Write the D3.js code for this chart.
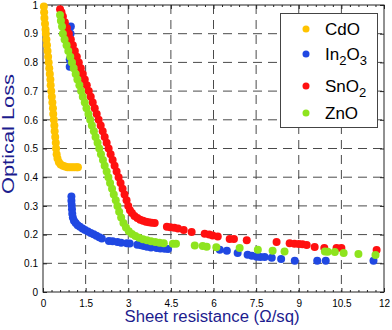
<!DOCTYPE html>
<html>
<head>
<meta charset="utf-8">
<script src="https://cdn.jsdelivr.net/npm/d3@7"></script>
<style>
  html, body { margin: 0; padding: 0; background: #fff; overflow: hidden; }
  text { font-family: 'Liberation Sans', Arial, Helvetica, sans-serif; }
</style>
</head>
<body>
<div id="chart"></div>
<script>
// tick values and labels
const xTicks = [0, 1.5, 3, 4.5, 6, 7.5, 9, 10.5, 12];
const xTickLabels = ['0', '1.5', '3', '4.5', '6', '7.5', '9', '10.5', '12'];
const yTicks = [0, 0.1, 0.2, 0.3, 0.4, 0.5, 0.6, 0.7, 0.8, 0.9, 1];
const yTickLabels = ['0', '0.1', '0.2', '0.3', '0.4', '0.5', '0.6', '0.7', '0.8', '0.9', '1'];
const xMinorTicks = [0.3, 0.6, 0.9, 1.2, 1.8, 2.1, 2.4, 2.7, 3.3, 3.6, 3.9, 4.2, 4.8, 5.1, 5.4, 5.7,
  6.3, 6.6, 6.9, 7.2, 7.8, 8.1, 8.4, 8.7, 9.3, 9.6, 9.9, 10.2, 10.8, 11.1, 11.4, 11.7];

// [sheet resistance, optical loss]
const cdo = [[0.03,0.995],[0.04,0.975],[0.05,0.955],[0.07,0.935],[0.09,0.915],[0.1,0.9],[0.12,0.88],
  [0.14,0.86],[0.16,0.84],[0.18,0.82],[0.2,0.8],[0.22,0.78],[0.24,0.76],[0.26,0.74],[0.27,0.72],
  [0.29,0.7],[0.31,0.68],[0.33,0.66],[0.35,0.64],[0.36,0.62],[0.38,0.6],[0.4,0.58],[0.41,0.56],
  [0.43,0.54],[0.45,0.52],[0.46,0.5],[0.48,0.48],[0.51,0.465],[0.56,0.452],[0.62,0.444],[0.7,0.44],
  [0.78,0.437],[0.86,0.435],[0.94,0.435],[1.02,0.435],[1.1,0.435],[1.18,0.435],[1.23,0.435]];

const in2o3 = [[0.98,0.925],[0.97,0.9],[0.96,0.87],[0.95,0.84],[0.94,0.81],[0.94,0.785],
  [1.0,0.333],[1.0,0.318],[1.01,0.303],[1.02,0.288],[1.03,0.273],[1.05,0.26],[1.09,0.248],
  [1.15,0.24],[1.22,0.233],[1.3,0.227],[1.39,0.221],[1.48,0.216],[1.58,0.211],[1.68,0.206],
  [1.78,0.201],[1.88,0.196],[1.98,0.191],[2.07,0.186],[2.32,0.178],[2.45,0.177],[2.62,0.174],
  [2.75,0.172],[2.95,0.17],[3.05,0.169],[3.32,0.165],[3.45,0.163],[3.55,0.16],[3.66,0.158],
  [3.8,0.155],[4.0,0.153],[4.13,0.152],[4.28,0.151],[4.4,0.15],
  [6.22,0.147],[6.47,0.144],[6.85,0.136],[7.2,0.13],[7.35,0.126],[7.52,0.123],[7.65,0.122],
  [7.8,0.122],[8.05,0.119],[8.38,0.115],[8.86,0.109],[9.65,0.109],[9.95,0.109],[11.63,0.109]];

const sno2 = [[0.6,0.985],[0.65,0.975],[0.7,0.96],[0.77,0.94],[0.84,0.92],[0.91,0.9],[0.98,0.88],
  [1.05,0.86],[1.12,0.84],[1.19,0.82],[1.26,0.8],[1.33,0.78],[1.4,0.76],[1.47,0.74],[1.54,0.72],
  [1.61,0.7],[1.68,0.68],[1.75,0.66],[1.82,0.64],[1.89,0.62],[1.96,0.6],[2.03,0.58],[2.1,0.56],
  [2.17,0.54],[2.24,0.52],[2.31,0.5],[2.38,0.48],[2.45,0.46],[2.52,0.44],[2.59,0.42],[2.66,0.4],
  [2.73,0.38],[2.8,0.36],[2.87,0.34],[2.94,0.32],[3.0,0.3],[3.06,0.285],[3.13,0.275],[3.22,0.265],
  [3.32,0.258],[3.42,0.252],[3.52,0.248],[3.62,0.245],[3.72,0.243],[3.82,0.241],[3.93,0.24],
  [4.36,0.227],[4.48,0.226],[4.62,0.224],[4.75,0.221],[4.95,0.216],[5.23,0.209],[5.69,0.203],
  [5.85,0.2],[5.97,0.197],[6.15,0.193],[6.57,0.185],[6.72,0.185],[7.17,0.18],[8.22,0.174],
  [8.68,0.17],[8.85,0.168],[9.0,0.167],[9.13,0.166],[9.28,0.164],[9.56,0.157],[9.9,0.153],
  [10.33,0.153],[10.5,0.153],[11.74,0.146]];

const zno = [[0.6,0.965],[0.63,0.945],[0.67,0.925],[0.7,0.9],[0.76,0.88],[0.83,0.86],[0.89,0.84],
  [0.96,0.82],[1.02,0.8],[1.08,0.78],[1.15,0.76],[1.21,0.74],[1.28,0.72],[1.34,0.7],[1.4,0.68],
  [1.47,0.66],[1.53,0.64],[1.6,0.62],[1.66,0.6],[1.72,0.58],[1.79,0.56],[1.85,0.54],[1.92,0.52],
  [1.98,0.5],[2.04,0.48],[2.11,0.46],[2.17,0.44],[2.24,0.42],[2.3,0.4],[2.36,0.38],[2.43,0.36],
  [2.49,0.34],[2.56,0.32],[2.62,0.3],[2.68,0.28],[2.75,0.26],[2.83,0.24],[2.92,0.225],[3.02,0.212],
  [3.13,0.202],[3.25,0.195],[3.38,0.189],[3.52,0.184],[3.66,0.18],[3.8,0.177],[3.95,0.174],
  [4.1,0.172],[4.25,0.17],
  [4.57,0.168],[4.68,0.168],[5.34,0.162],[5.62,0.16],[5.76,0.158],[6.1,0.156],[6.92,0.153],
  [7.56,0.147],[8.08,0.144],[8.5,0.141],[9.92,0.141],[10.02,0.14],[10.27,0.139],[10.58,0.136],
  [11.1,0.132],[11.7,0.129]];

const colCdO = '#FFC300';
const colIn = '#2048E2';
const colSn = '#FF1010';
const colZn = '#8EE41E';
const labelColor = '#1C1C8E';
const gridColor = '#4a4a4a';
const dotR = 4;

const width = 392;
const height = 330;
const margin = {top: 5, right: 8, bottom: 38, left: 43};
const innerWidth = width - margin.left - margin.right;
const innerHeight = height - margin.top - margin.bottom;

const xScale = d3.scaleLinear().domain([0, 12]).range([0, innerWidth]);
const yScale = d3.scaleLinear().domain([0, 1]).range([innerHeight, 0]);

// viewBox keeps the whole chart inside the window even if the viewport differs
const svg = d3.select('#chart').append('svg')
    .attr('viewBox', `0 0 ${width} ${height}`)
    .style('width', '100vw')
    .style('height', '100vh')
    .style('display', 'block');

const g = svg.append('g')
    .attr('transform', `translate(${margin.left},${margin.top})`);

// dashed grid
g.append('g').selectAll('line')
  .data(xTicks.slice(1, -1))
  .join('line')
    .attr('x1', d => xScale(d)).attr('x2', d => xScale(d))
    .attr('y1', 0).attr('y2', innerHeight)
    .attr('stroke', gridColor)
    .attr('stroke-dasharray', '9,6');

g.append('g').selectAll('line')
  .data(yTicks.slice(1, -1))
  .join('line')
    .attr('y1', d => yScale(d)).attr('y2', d => yScale(d))
    .attr('x1', 0).attr('x2', innerWidth)
    .attr('stroke', gridColor)
    .attr('stroke-dasharray', '9,6');

// frame with inward ticks
g.append('rect')
    .attr('width', innerWidth).attr('height', innerHeight)
    .attr('fill', 'none').attr('stroke', '#222');

const xAxis = g.append('g')
    .attr('transform', `translate(0,${innerHeight})`)
    .call(d3.axisBottom(xScale).tickValues(xTicks).tickSize(-4)
      .tickFormat((d, i) => xTickLabels[i]).tickPadding(8))
    .call(a => a.select('.domain').remove());
xAxis.selectAll('.tick text').style('font-size', '10px').attr('fill', '#000');

const tickOnly = (axis, transform) => {
  g.append('g')
    .attr('transform', transform)
    .call(axis)
    .call(a => a.select('.domain').remove())
    .call(a => a.selectAll('text').remove());
};
tickOnly(d3.axisBottom(xScale).tickValues(xMinorTicks).tickSize(-2), `translate(0,${innerHeight})`);
tickOnly(d3.axisTop(xScale).tickValues(xTicks).tickSize(-4), 'translate(0,0)');
tickOnly(d3.axisTop(xScale).tickValues(xMinorTicks).tickSize(-2), 'translate(0,0)');
tickOnly(d3.axisRight(yScale).tickValues(yTicks).tickSize(-4), `translate(${innerWidth},0)`);

const yAxis = g.append('g')
    .call(d3.axisLeft(yScale).tickValues(yTicks).tickSize(-4)
      .tickFormat((d, i) => yTickLabels[i]).tickPadding(5))
    .call(a => a.select('.domain').remove());
yAxis.selectAll('.tick text').style('font-size', '10px').attr('fill', '#000');

g.selectAll('.tick line').attr('stroke', '#222');

// data points
const drawSeries = (data, color) => {
  g.append('g').selectAll('circle')
    .data(data)
    .join('circle')
      .attr('cx', d => xScale(d[0]))
      .attr('cy', d => yScale(d[1]))
      .attr('r', dotR)
      .attr('fill', color);
};
drawSeries(cdo, colCdO);
drawSeries(in2o3, colIn);
drawSeries(sno2, colSn);
drawSeries(zno, colZn);

// legend
const legend = svg.append('g');
legend.append('rect')
    .attr('x', 280.5).attr('y', 13.5)
    .attr('width', 97).attr('height', 114)
    .attr('fill', '#fff').attr('stroke', '#444');

const legendRows = [
  {color: colCdO, y: 29, parts: [['CdO', false]]},
  {color: colIn, y: 54, parts: [['In', false], ['2', true], ['O', false], ['3', true]]},
  {color: colSn, y: 86, parts: [['SnO', false], ['2', true]]},
  {color: colZn, y: 113, parts: [['ZnO', false]]}
];

legendRows.forEach(r => {
  legend.append('circle')
      .attr('cx', 306).attr('cy', r.y).attr('r', 3.5)
      .attr('fill', r.color);
  const t = legend.append('text')
      .attr('x', 325).attr('y', r.y + 6)
      .attr('fill', '#000');
  let low = false;
  r.parts.forEach(p => {
    const dy = p[1] === low ? 0 : (p[1] ? 5 : -5);
    low = p[1];
    t.append('tspan')
      .attr('dy', dy)
      .style('font-size', p[1] ? '13px' : '17px')
      .text(p[0]);
  });
});

// axis titles
svg.append('text')
    .attr('x', 212).attr('y', 322)
    .attr('text-anchor', 'middle')
    .attr('textLength', 175)
    .attr('lengthAdjust', 'spacingAndGlyphs')
    .style('font-size', '16px')
    .attr('fill', labelColor)
    .text('Sheet resistance (\u03A9/sq)');

svg.append('text')
    .attr('transform', 'translate(14,134) rotate(-90)')
    .attr('text-anchor', 'middle')
    .attr('textLength', 120)
    .attr('lengthAdjust', 'spacingAndGlyphs')
    .style('font-size', '17px')
    .attr('fill', labelColor)
    .text('Optical Loss');
</script>
</body>
</html>
